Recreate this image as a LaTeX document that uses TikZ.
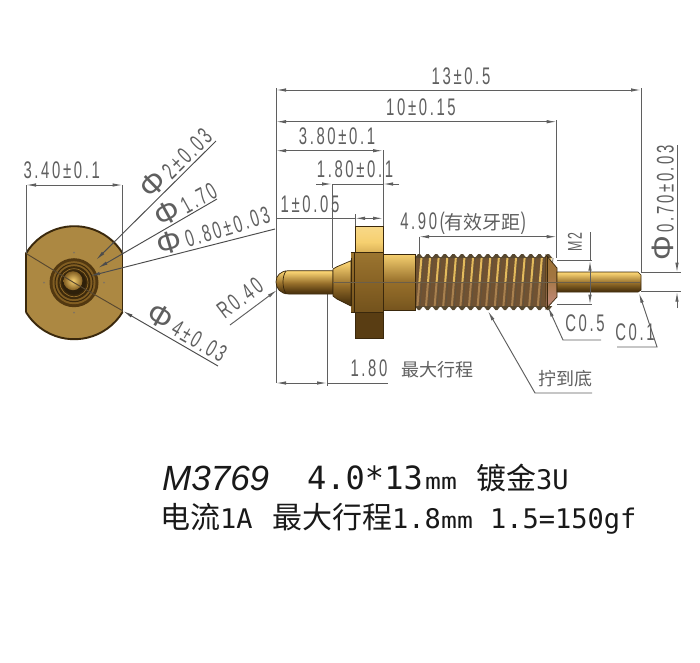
\documentclass[tikz,border=0pt]{standalone}
\usepackage{fontspec}
\usepackage{tikz}
\usetikzlibrary{arrows.meta}
\setmainfont{Liberation Sans}
\newfontfamily\dimfont[FakeStretch=0.62,LetterSpace=11]{Liberation Sans}
\newfontfamily\phifont{Liberation Sans}
\newfontfamily\cjkfont{Noto Sans CJK SC}
\newfontfamily\monofont{DejaVu Sans Mono}
\newfontfamily\unitfont[FakeStretch=1.2]{DejaVu Sans Mono}
\newcommand{\dia}{{\phifont\fontsize{31}{31}\selectfont Φ}}
\definecolor{dimgray}{RGB}{95,95,95}
\definecolor{edgebrown}{RGB}{58,40,12}
\definecolor{facegold}{RGB}{172,136,66}
\definecolor{golddark}{RGB}{82,56,16}
\definecolor{goldmid}{RGB}{150,110,42}
\definecolor{goldbright}{RGB}{246,208,112}
\definecolor{goldtop}{RGB}{186,142,58}
\definecolor{threadbase}{RGB}{112,82,50}
\definecolor{threadlight}{RGB}{226,186,92}
\definecolor{threadlow}{RGB}{168,128,78}
\definecolor{nosepink}{RGB}{190,135,115}
\pgfdeclareverticalshading{goldpin}{100bp}{color(0bp)=(golddark);color(30bp)=(golddark);
  color(48bp)=(goldmid);color(72bp)=(goldbright);color(88bp)=(goldbright);color(100bp)=(goldtop)}
\pgfdeclareverticalshading{goldbody}{100bp}{color(0bp)=(golddark);color(38bp)=(goldmid!80!golddark);
  color(50bp)=(goldmid);color(75bp)=(goldbright);color(90bp)=(goldbright);color(100bp)=(goldtop)}
\pgfdeclareverticalshading{tabtop}{100bp}{color(0bp)=(goldtop);color(45bp)=(goldbright);color(100bp)=(goldbright!70!white)}
\pgfdeclareverticalshading{tabmid}{100bp}{color(0bp)=(golddark!85!goldmid);color(50bp)=(goldmid!80!golddark);color(100bp)=(goldmid!75!goldbright)}
\pgfdeclareverticalshading{pinknose}{100bp}{color(0bp)=(golddark);color(32bp)=(nosepink);
  color(55bp)=(goldmid!70!nosepink);color(100bp)=(goldmid)}

\begin{document}
\begin{tikzpicture}[x=1pt,y=-1pt,>={Latex[length=10pt,width=3.4pt]}]
  \tikzstyle{dimline}=[draw=dimgray,line width=0.95pt]
  \tikzstyle{dimtext}=[text=dimgray,inner sep=0pt,font=\dimfont\fontsize{24}{24}\selectfont]
  \tikzstyle{cjktext}=[text=dimgray,inner sep=0pt,font=\cjkfont\fontsize{18}{18}\selectfont]
  \tikzstyle{partedge}=[draw=edgebrown,line width=0.7pt]
  \tikzstyle{titletext}=[anchor=base west,inner sep=0pt,text=black!90]
  \useasboundingbox (0,0) rectangle (700,662);
  \fill[white] (0,0) rectangle (700,662);

  % end view
  \coordinate (hub) at (74,282.7);
  \coordinate (flatL) at (26,253.4);
  \coordinate (flatR) at (122.6,253.4);
  \coordinate (flatLow) at (122.6,312);
  \fill[facegold] (flatL) arc[start angle=-148.8,end angle=-31.2,radius=56.5]
    -- (flatLow) arc[start angle=31.2,end angle=148.8,radius=56.5] -- cycle;
  \draw[edgebrown,line width=1.9pt] (flatL) arc[start angle=-148.8,end angle=-31.2,radius=56.5]
    (flatLow) arc[start angle=31.2,end angle=148.8,radius=56.5];
  \draw[edgebrown,line width=1.2pt] (flatL) -- (26,312);
  \draw[edgebrown,line width=1.2pt] (flatR) -- (flatLow);
  \foreach \a in {0,90,180,270}
    \fill[edgebrown!65] (hub) ++(\a:30) circle (1pt);
  \fill[golddark] (hub) circle (24.5);
  \fill[goldmid!70!golddark] (hub) circle (21.5);
  \draw[edgebrown,line width=1pt] (hub) circle (19);
  \fill[golddark!75!black] (hub) circle (16.5);
  \draw[goldmid,line width=0.7pt] (hub) circle (14);
  \fill[edgebrown!80!black] (hub) circle (12);
  \shade[inner color=goldbright,outer color=goldmid!70!golddark] (hub) ++(-1,-2) circle (9.5);

  % extension lines
  \coordinate (tipTop) at (276,88);
  \coordinate (tipLow) at (276,383);
  \coordinate (endTop) at (641,88);
  \coordinate (endPin) at (641,272.7);
  \coordinate (shdTop) at (556.7,120);
  \coordinate (shdPin) at (556.7,258);
  \coordinate (tabTop) at (383,150);
  \coordinate (tabPin) at (383,226.7);
  \coordinate (noseTop) at (332,184);
  \coordinate (nosePin) at (332,268);
  \coordinate (tabLeft) at (355,214);
  \coordinate (tabLow) at (355,226.7);
  \coordinate (pitTop) at (419,236.7);
  \coordinate (pitPin) at (419,254);
  \coordinate (strokeA) at (327,294);
  \coordinate (strokeB) at (327,386);
  \draw[dimline] (tipTop) -- (tipLow);
  \draw[dimline] (endTop) -- (endPin);
  \draw[dimline] (shdTop) -- (shdPin);
  \draw[dimline] (tabTop) -- (tabPin);
  \draw[dimline] (noseTop) -- (nosePin);
  \draw[dimline] (tabLeft) -- (tabLow);
  \draw[dimline] (pitTop) -- (pitPin);
  \draw[dimline] (strokeA) -- (strokeB);

  % pin parts
  \shade[shading=goldpin,partedge] (333,270.7) -- (289,270.7) .. controls (280,270.7) and (276,276) .. (276,282)
    .. controls (276,288) and (280,294) .. (289,294) -- (333,294) -- cycle;
  \draw[partedge] (286,271) .. controls (282,276) and (282,288) .. (286,293.5);
  \shade[shading=goldpin,partedge] (333,269) -- (337,266.7) -- (351,260.7) -- (351,306) -- (337,299) -- (333,296) -- cycle;
  \shade[shading=tabtop] (355,226.7) rectangle (383,252);
  \fill[golddark!90!goldmid] (355,312.7) rectangle (383,338);
  \draw[partedge] (355,226.7) rectangle (383,338);
  \shade[shading=tabmid] (351,252) rectangle (383,312.7);
  \draw[partedge,line width=1pt] (351,252) -- (383,252) (351,312.7) -- (383,312.7) (351,258) -- (351,306) (354.5,252) -- (354.5,312.7);
  \shade[shading=goldbody,partedge] (383,254) rectangle (415,310);

  % thread
  \fill[threadbase] (415,257) rectangle (547,307);
  \foreach \n [evaluate=\n as \tx using 419+8.6*\n] in {0,...,15} {
    \fill[edgebrown!85] (\tx-4.3,258) -- (\tx-1,254) -- (\tx+1,254) -- (\tx+4.3,258) -- cycle;
    \fill[edgebrown!85] (\tx-4.3,306) -- (\tx-1,310) -- (\tx+1,310) -- (\tx+4.3,306) -- cycle;
    \draw[threadlight,line width=2pt] (\tx+2.4,258) -- (\tx+0.4,282);
    \draw[threadlow,line width=2pt] (\tx+0.4,282) -- (\tx-1.6,306);
    \draw[edgebrown!80,line width=0.7pt] (\tx+5,258) -- (\tx+1,306);
  }
  \draw[partedge] (415,254) -- (415,310);
  \shade[shading=pinknose,partedge] (546,255) -- (557,268) -- (557,297) -- (546,309) -- cycle;
  \draw[edgebrown,line width=1pt] (547,256) -- (547,308);
  \shade[shading=goldpin,partedge] (557,272) -- (638,272) -- (641,275) -- (641,290) -- (638,292) -- (557,292) -- cycle;
  \draw[edgebrown!75,line width=0.7pt] (333,282) -- (640,282);

  % dimensions on top
  \coordinate (d13a) at (276,90);
  \coordinate (d13b) at (641,90);
  \coordinate (d10a) at (276,121.7);
  \coordinate (d10b) at (556.7,121.7);
  \coordinate (d38a) at (276,150.7);
  \coordinate (d38b) at (383,150.7);
  \coordinate (d18o) at (316,184);
  \coordinate (d18a) at (332,184);
  \coordinate (d18b) at (383,184);
  \coordinate (d18p) at (399,184);
  \coordinate (d1o) at (276,218.3);
  \coordinate (d1a) at (355,218.3);
  \coordinate (d1b) at (383,218.3);
  \coordinate (d49a) at (419,236.7);
  \coordinate (d49b) at (556.7,236.7);
  \draw[dimline,<->] (d13a) -- (d13b);
  \draw[dimline,<->] (d10a) -- (d10b);
  \draw[dimline,<->] (d38a) -- (d38b);
  \draw[dimline,->] (d18o) -- (d18a);
  \draw[dimline,->] (d18p) -- (d18b);
  \draw[dimline] (d18a) -- (d18b);
  \draw[dimline] (d1o) -- (d1a);
  \draw[dimline,<->] (d1a) -- (d1b);
  \draw[dimline,<->] (d49a) -- (d49b);
  \node[dimtext] (t13) at (461,76) {13±0.5};
  \node[dimtext] (t10) at (421,107) {10±0.15};
  \node[dimtext] (t38) at (337,136) {3.80±0.1};
  \node[dimtext] (t18) at (355,169) {1.80±0.1};
  \node[dimtext] (t1) at (310,204) {1±0.05};
  \node[dimtext] (t49) at (463,223) {4.90({\cjkfont\fontsize{19}{19}\selectfont 有效牙距})};

  % dimensions on the right
  \coordinate (m2a) at (557,260.7);
  \coordinate (m2b) at (592,260.7);
  \coordinate (m2c) at (557,304.7);
  \coordinate (m2d) at (592,304.7);
  \coordinate (m2top) at (590,232);
  \coordinate (m2up) at (590,260.7);
  \coordinate (m2dn) at (590,304.7);
  \coordinate (m2mid) at (590,282);
  \draw[dimline] (m2a) -- (m2b);
  \draw[dimline] (m2c) -- (m2d);
  \draw[dimline] (m2top) -- (m2up);
  \draw[dimline,->] (m2mid) -- (m2up);
  \draw[dimline,->] (m2mid) -- (m2dn);
  \node[dimtext,rotate=90,font=\dimfont\fontsize{20}{20}\selectfont] (tm2) at (575,242) {M2};
  \coordinate (p7a) at (641,272.7);
  \coordinate (p7b) at (681,272.7);
  \coordinate (p7c) at (641,291.7);
  \coordinate (p7d) at (681,291.7);
  \coordinate (p7top) at (677,145);
  \coordinate (p7up) at (677,272.7);
  \coordinate (p7dn) at (677,291.7);
  \coordinate (p7low) at (677,308);
  \draw[dimline] (p7a) -- (p7b);
  \draw[dimline] (p7c) -- (p7d);
  \draw[dimline,->] (p7top) -- (p7up);
  \draw[dimline,->] (p7low) -- (p7dn);
  \node[dimtext,rotate=90] (t07) at (663,203) {\dia\,0.70±0.03};

  % leaders below
  \coordinate (c5a) at (548,307);
  \coordinate (c5b) at (563,340);
  \coordinate (c5c) at (601,340);
  \coordinate (c1a) at (639,293);
  \coordinate (c1b) at (657,347);
  \coordinate (c1c) at (617,347);
  \coordinate (bta) at (488,311);
  \coordinate (btb) at (535,393);
  \coordinate (btc) at (592,393);
  \draw[dimline,<-] (c5a) -- (c5b) -- (c5c);
  \draw[dimline,<-] (c1a) -- (c1b) -- (c1c);
  \draw[dimline,<-] (bta) -- (btb) -- (btc);
  \node[dimtext] (tc5) at (585,323) {C0.5};
  \node[dimtext] (tc1) at (635,332) {C0.1};
  \node[cjktext] (tbt) at (565,379) {拧到底};
  \coordinate (tra) at (276,383);
  \coordinate (trb) at (327,383);
  \coordinate (trc) at (388,383);
  \draw[dimline,<->] (tra) -- (trb);
  \draw[dimline] (trb) -- (trc);
  \node[dimtext] (ttr) at (369,368) {1.80};
  \node[cjktext] (ttrc) at (437,370) {最大行程};
  \coordinate (rad) at (277,290);
  \coordinate (radl) at (230,325);
  \draw[dimline,->] (radl) -- (rad);
  \node[dimtext,rotate=37] (trad) at (240,298) {R0.40};

  % end view dimensions
  \coordinate (w3a) at (26,185);
  \coordinate (w3b) at (122.6,185);
  \draw[dimline,<->] (w3a) -- (w3b);
  \draw[dimline] (flatL) -- (w3a);
  \draw[dimline] (flatR) -- (w3b);
  \node[dimtext] (t34) at (61.7,170) {3.40±0.1};
  \coordinate (ld2) at (216,141);
  \coordinate (ld17) at (217,199);
  \coordinate (ld08) at (275,229);
  \coordinate (ld4) at (218,366);
  \coordinate (hd2) at (96,260);
  \coordinate (hd17) at (98,268);
  \coordinate (hd08) at (90,276);
  \coordinate (hd4) at (123,311);
  \draw[dimline,->,draw=black!70] (ld2) -- (hd2);
  \draw[dimline,->,draw=black!70] (ld17) -- (hd17);
  \draw[dimline,->,draw=black!70] (ld08) -- (hd08);
  \draw[dimline,->,draw=black!70] (ld4) -- (hd4);
  \draw[dimline,draw=edgebrown!85] (hd4) -- (hub) -- (flatL);
  \node[dimtext,rotate=44.5] (tp2) at (175,162) {\dia\,2±0.03};
  \node[dimtext,rotate=29] (tp17) at (185,203) {\dia\,1.70};
  \node[dimtext,rotate=17] (tp08) at (213,229) {\dia\,0.80±0.03};
  \node[dimtext,rotate=-30] (tp4) at (188,332) {\dia\,4±0.03};

  % caption
  \node[titletext,font=\itshape\fontsize{35}{35}\selectfont] (tmodel) at (162,490) {M3769};
  \node[titletext,font=\monofont\fontsize{32}{32}\selectfont] (tsize) at (307,489) {4.0*13};
  \node[titletext,font=\unitfont\fontsize{22}{22}\selectfont] (tunit) at (425,489) {mm};
  \node[titletext,font=\cjkfont\fontsize{30}{30}\selectfont] (tplate) at (476,489) {镀金};
  \node[titletext,font=\monofont\fontsize{27}{27}\selectfont] (tplateb) at (536,489) {3U};
  \node[titletext,font=\cjkfont\fontsize{30}{30}\selectfont] (tcur) at (160,528) {电流};
  \node[titletext,font=\monofont\fontsize{27}{27}\selectfont] (tcurb) at (220,528) {1A};
  \node[titletext,font=\cjkfont\fontsize{30}{30}\selectfont] (tstroke) at (272,528) {最大行程};
  \node[titletext,font=\monofont\fontsize{27}{27}\selectfont] (tstrokeb) at (392,528) {1.8};
  \node[titletext,font=\unitfont\fontsize{22}{22}\selectfont] (tunitb) at (441,528) {mm};
  \node[titletext,font=\monofont\fontsize{27}{27}\selectfont] (tforce) at (490,528) {1.5=150gf};
\end{tikzpicture}
\end{document}
